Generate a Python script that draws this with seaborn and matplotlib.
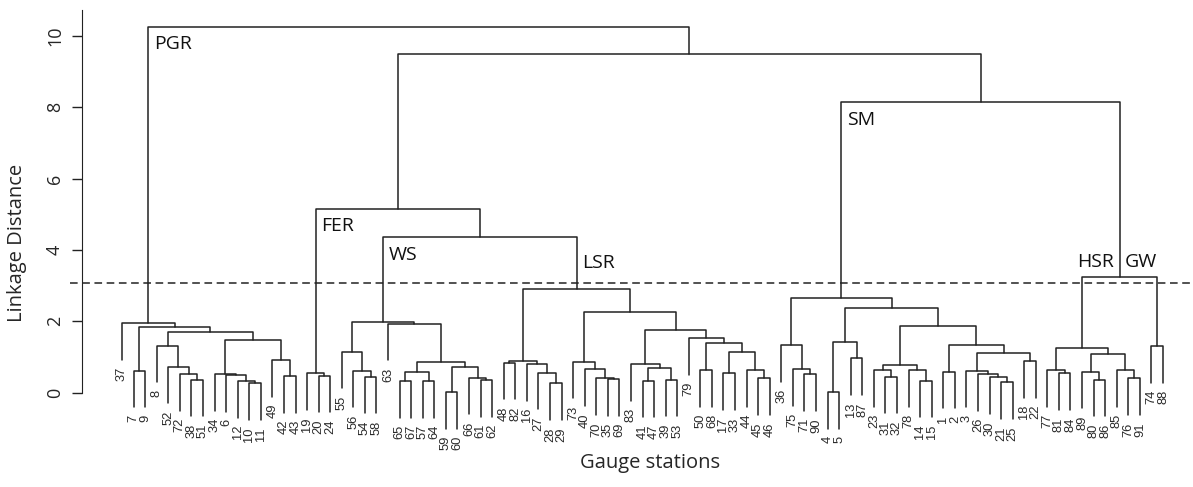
import pandas as pd
import matplotlib
matplotlib.use("Agg")
import matplotlib.pyplot as plt
import seaborn as sns

# merge heights: a node is (height, left, right), a leaf is the station number
pgr = (1.95, 37, (1.84, (0.62, 7, 9),
                  (1.69, (1.32, 8, (0.73, 52, (0.52, 72, (0.37, 38, 51)))),
                   (1.48, (0.52, 34, (0.49, 6, (0.33, 12, (0.26, 10, 11)))),
                    (0.92, 49, (0.47, 42, 43))))))
fer = (0.54, 19, (0.48, 20, 24))
ws = (1.99, (1.15, 55, (0.62, 56, (0.45, 54, 58))),
      (1.94, 63, (0.85, (0.59, (0.33, 65, 67), (0.33, 57, 64)),
                  (0.73, (0.02, 59, 60), (0.42, 66, (0.35, 61, 62))))))
lsr = (2.90, (0.89, (0.84, 48, 82), (0.80, 16, (0.56, 27, (0.26, 28, 29)))),
       (2.27, (0.87, 73, (0.66, 40, (0.40, 70, (0.38, 35, 69)))),
        (1.76, (0.80, 83, (0.70, (0.34, 41, 47), (0.37, 39, 53))),
         (1.54, 79, (1.40, (0.64, 50, 68),
                     (1.15, (0.54, 17, 33), (0.64, 44, (0.40, 45, 46))))))))
sm = (2.65, (1.34, 36, (0.66, 75, (0.52, 71, 90))),
      (2.37, (1.43, (0.01, 4, 5), (0.96, 13, 87)),
       (1.87, (0.78, (0.64, 23, (0.45, 31, 32)), (0.64, 78, (0.34, 14, 15))),
        (1.35, (0.59, 1, 2),
         (1.10, (0.62, 3, (0.52, 26, (0.43, 30, (0.29, 21, 25)))), (0.89, 18, 22))))))
hsr = (1.24, (0.64, 77, (0.54, 81, 84)),
       (1.08, (0.59, 89, (0.37, 80, 86)), (0.64, 85, (0.40, 76, 91))))
gw = (1.31, 74, 88)

ws_lsr = (4.36, ws, lsr)
fer_join = (5.15, fer, ws_lsr)
hsr_gw = (3.23, hsr, gw)
sm_join = (8.14, sm, hsr_gw)
mid_join = (9.49, fer_join, sm_join)
tree = (10.26, pgr, mid_join)

hang = 1.03
cut_height = 3.07

# walk the tree, leaves get consecutive positions, nodes sit between their children
rows = []
leaves = []
leaf_ends = []
pos = {}
node_id = [0]


def walk(node):
    if isinstance(node, int):
        leaves.append(node)
        return len(leaves) - 1, None
    h, a, b = node
    xa, ha = walk(a)
    xb, hb = walk(b)
    ya = h - hang if ha is None else ha
    yb = h - hang if hb is None else hb
    k = node_id[0]
    node_id[0] += 1
    for x, y in [(xa, ya), (xa, h), (xb, h), (xb, yb)]:
        rows.append({"x": x, "y": y, "node": k})
    if ha is None:
        leaf_ends.append((xa, ya, a))
    if hb is None:
        leaf_ends.append((xb, yb, b))
    pos[id(node)] = ((xa + xb) / 2, h)
    return (xa + xb) / 2, h


walk(tree)
df = pd.DataFrame(rows)

sns.set_style("white")
plt.rcParams["font.family"] = ["Open Sans", "DejaVu Sans"]

W, H = 1193, 487
fig = plt.figure(figsize=(W / 100, H / 100), dpi=100)
left_px, right_px, top_px, bot_px = 82, 1193, 10, 440
ax = fig.add_axes([left_px / W, 1 - bot_px / H, (right_px - left_px) / W, (bot_px - top_px) / H])

sns.lineplot(data=df, x="x", y="y", units="node", estimator=None, sort=False,
             color="#222222", linewidth=1.1, ax=ax, legend=False)

# leaf x: 122 px for first, 11.567 px apart; height 0 at 392.7 px, 35.67 px per unit
xs = 11.567
ys = 35.67
ax.set_xlim((left_px - 122) / xs, (right_px - 122) / xs)
ax.set_ylim((392.7 - bot_px) / ys, (392.7 - top_px) / ys)

for x, y, lab in leaf_ends:
    ax.text(x, y - 0.2, str(lab), rotation=90, ha="center", va="top", fontsize=9.3,
            family=["Liberation Sans", "DejaVu Sans"], color="#2a2a2a", clip_on=False)

ax.plot([(70 - 122) / xs, (right_px - 122) / xs], [cut_height, cut_height], ls="--",
        color="#222222", lw=1.1, dashes=(5, 3), clip_on=False)


# cluster names next to the branch that carries them
def name_at(node, parent, text, dx=4, dy=-6, ha="left", va="top"):
    x = pos[id(node)][0]
    y = pos[id(parent)][1]
    ax.annotate(text, xy=(x, y), xytext=(dx, dy), textcoords="offset points",
                ha=ha, va=va, fontsize=14, color="#111111")


name_at(pgr, tree, "PGR")
name_at(fer, fer_join, "FER")
name_at(ws, ws_lsr, "WS")
name_at(lsr, ws_lsr, "LSR", dy=-12)
name_at(sm, sm_join, "SM")
name_at(hsr_gw, hsr_gw, "HSR", dx=-4, dy=5, ha="right", va="bottom")
name_at(hsr_gw, hsr_gw, "GW", dx=4, dy=5, ha="left", va="bottom")

sns.despine(ax=ax, bottom=True)
ax.spines["left"].set_bounds(0, (392.7 - top_px) / ys)
ax.spines["left"].set_color("#222222")
ax.set_xticks([])
ax.set_yticks([0, 2, 4, 6, 8, 10])
ax.tick_params(axis="y", direction="out", length=7, width=1, color="#222222",
               labelsize=13, labelrotation=90, pad=6, left=True)
plt.setp(ax.get_yticklabels(), va="center")

ax.set_xlabel("Gauge stations", fontsize=14.5)
ax.set_ylabel("Linkage Distance", fontsize=14.5)
ax.xaxis.set_label_coords((650 - left_px) / (right_px - left_px), (bot_px - 453) / (bot_px - top_px))
ax.yaxis.set_label_coords((27 - left_px) / (right_px - left_px), (bot_px - 243) / (bot_px - top_px))

fig.savefig("out.png", dpi=100)
